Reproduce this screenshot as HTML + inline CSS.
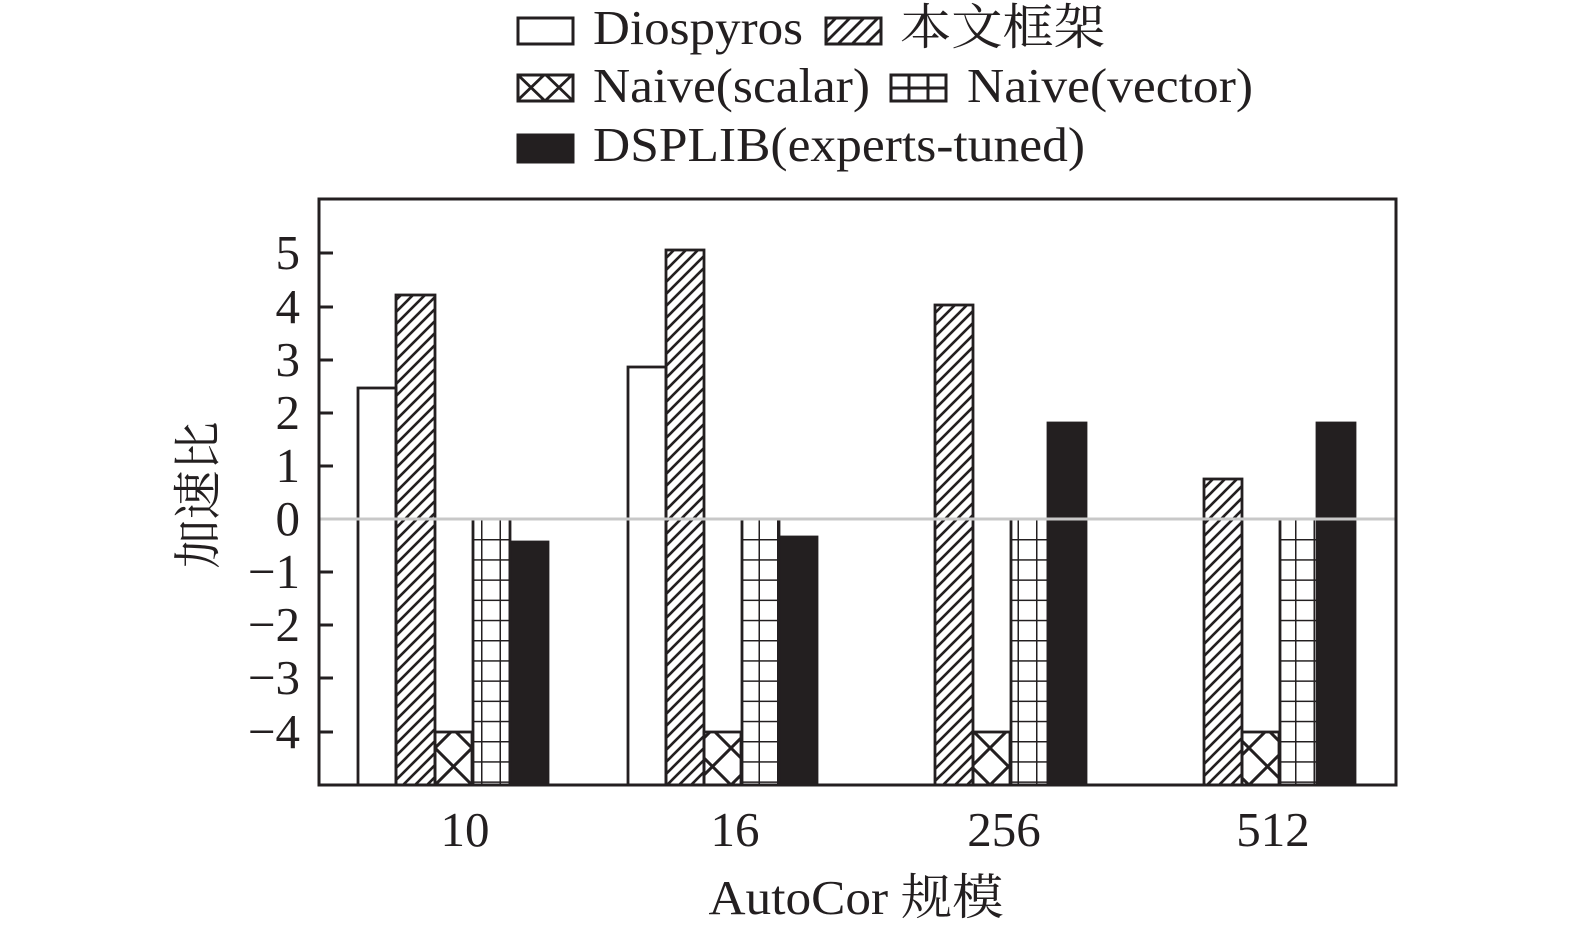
<!DOCTYPE html>
<html><head><meta charset="utf-8"><style>
html,body{margin:0;padding:0;background:#fff}
svg{display:block}
text{font-family:"Liberation Serif","Noto Serif CJK SC",serif;fill:#231f20}
</style></head><body>
<svg width="1575" height="934" viewBox="0 0 1575 934" xmlns="http://www.w3.org/2000/svg">
<defs>
<pattern id="hatch" patternUnits="userSpaceOnUse" width="12" height="12">
<path d="M-3,15 L15,-3 M-3,3 L3,-3 M9,15 L15,9" stroke="#231f20" stroke-width="2.6"/>
</pattern>
<pattern id="cross" patternUnits="userSpaceOnUse" width="37" height="37" x="435" y="748">
<path d="M0,0 L37,37 M37,0 L0,37" stroke="#231f20" stroke-width="3"/>
</pattern>
<pattern id="grid" patternUnits="userSpaceOnUse" width="18.5" height="20.2" y="539">
<path d="M0,0 H19 M0,0 V20.2" stroke="#231f20" stroke-width="3"/>
</pattern>
<pattern id="lhatch" patternUnits="userSpaceOnUse" width="14" height="14">
<path d="M-3,17 L17,-3 M-3,3 L3,-3 M11,17 L17,11" stroke="#231f20" stroke-width="2.8"/>
</pattern>
<pattern id="lcross" patternUnits="userSpaceOnUse" width="28" height="27" x="517" y="74">
<path d="M0,0 L28,27 M28,0 L0,27" stroke="#231f20" stroke-width="2.8"/>
</pattern>
</defs>

<!-- legend -->
<g stroke="#231f20" stroke-width="3">
<rect x="518" y="18" width="55" height="26" fill="#fff"/>
<rect x="826" y="18" width="55" height="26" fill="url(#lhatch)"/>
<rect x="518" y="75" width="55" height="26" fill="url(#lcross)"/>
<rect x="891" y="75" width="55" height="26" fill="#fff"/>
<path d="M891,88 H946 M909,75 V101 M928,75 V101" fill="none"/>
<rect x="518" y="135" width="55" height="27" fill="#231f20"/>
</g>
<g font-size="49">
<text x="593" y="44" textLength="210" lengthAdjust="spacingAndGlyphs">Diospyros</text>
<text x="900" y="44" textLength="205" lengthAdjust="spacingAndGlyphs">本文框架</text>
<text x="593" y="102" textLength="277" lengthAdjust="spacingAndGlyphs">Naive(scalar)</text>
<text x="967" y="102" textLength="286" lengthAdjust="spacingAndGlyphs">Naive(vector)</text>
<text x="593" y="161" textLength="492" lengthAdjust="spacingAndGlyphs">DSPLIB(experts-tuned)</text>
</g>

<!-- bars -->
<g stroke="#231f20" stroke-width="2.8">
<rect x="358" y="388" width="38" height="397" fill="#fff"/>
<rect x="396" y="295" width="39" height="490" fill="url(#hatch)"/>
<rect x="435" y="732" width="37" height="53" fill="url(#cross)"/>
<rect x="473" y="519" width="37" height="266" fill="url(#grid)"/>
<rect x="510" y="542" width="38" height="243" fill="#231f20"/>
<rect x="628" y="367" width="38" height="418" fill="#fff"/>
<rect x="666" y="250" width="38" height="535" fill="url(#hatch)"/>
<rect x="704" y="732" width="37" height="53" fill="url(#cross)"/>
<rect x="742" y="519" width="37" height="266" fill="url(#grid)"/>
<rect x="779" y="537" width="38" height="248" fill="#231f20"/>
<rect x="935" y="305" width="38" height="480" fill="url(#hatch)"/>
<rect x="973" y="732" width="37" height="53" fill="url(#cross)"/>
<rect x="1011" y="519" width="37" height="266" fill="url(#grid)"/>
<rect x="1048" y="423" width="38" height="362" fill="#231f20"/>
<rect x="1204" y="479" width="38" height="306" fill="url(#hatch)"/>
<rect x="1242" y="732" width="37" height="53" fill="url(#cross)"/>
<rect x="1280" y="519" width="37" height="266" fill="url(#grid)"/>
<rect x="1317" y="423" width="38" height="362" fill="#231f20"/>
</g>

<line x1="319" y1="519" x2="1395" y2="519" stroke="#c8c8c8" stroke-width="3"/>

<rect x="319" y="199" width="1077" height="586" fill="none" stroke="#231f20" stroke-width="3"/>
<g stroke="#231f20" stroke-width="3">
<path d="M319,253 H333 M319,307 H333 M319,360 H333 M319,413 H333 M319,466 H333 M319,572 H333 M319,625 H333 M319,678 H333 M319,732 H333"/>
</g>

<g font-size="49" text-anchor="end">
<text x="300" y="269">5</text>
<text x="300" y="323">4</text>
<text x="300" y="376">3</text>
<text x="300" y="429">2</text>
<text x="300" y="482">1</text>
<text x="300" y="535">0</text>
<text x="300" y="588">−1</text>
<text x="300" y="641">−2</text>
<text x="300" y="694">−3</text>
<text x="300" y="748">−4</text>
</g>
<text font-size="49" transform="translate(215,495) rotate(-90)" text-anchor="middle">加速比</text>

<g font-size="49" text-anchor="middle">
<text x="465" y="846">10</text>
<text x="735" y="846">16</text>
<text x="1004" y="846">256</text>
<text x="1273" y="846">512</text>
<text x="856" y="914" textLength="295" lengthAdjust="spacingAndGlyphs">AutoCor 规模</text>
</g>
</svg>
</body></html>
